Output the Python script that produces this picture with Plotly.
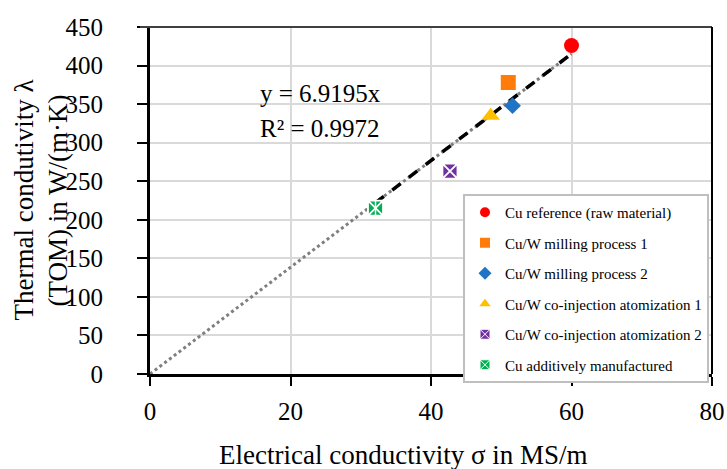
import plotly.graph_objects as go

# ---- data ----
names = [
    "Cu reference (raw material)",
    "Cu/W milling process 1",
    "Cu/W milling process 2",
    "Cu/W co-injection atomization 1",
    "Cu/W co-injection atomization 2",
    "Cu additively manufactured",
]
sigma = [60.0, 51.0, 51.6, 48.5, 42.7, 32.1]
lam = [426, 378, 348, 335, 263, 215]
slope = 6.9195
r2 = 0.9972
x_ticks = [0, 20, 40, 60, 80]
y_ticks = [0, 50, 100, 150, 200, 250, 300, 350, 400, 450]
x_title = "Electrical conductivity σ in MS/m"
y_title_lines = ["Thermal condutivity λ", "(TOM) in W/(m·K)"]

# ---- styles ----
colors = ["#FF0000", "#FF7C0A", "#1F74C6", "#FFC000", "#7030A0", "#00B050"]
symbols = ["circle", "square", "diamond", "triangle-up", "square-x", "square-x"]
sizes = [15, 15, 13, 16, 15, 15]
FONT = "Liberation Serif"
L, R, T, B = 150, 15, 27, 95
W, H = 727, 469
PW = W - L - R
PH = H - T - B

fig = go.Figure()

xmax = max(sigma)
xmin = min(sigma)
fig.add_trace(go.Scatter(
    x=[0, xmax], y=[0, slope * xmax], mode="lines",
    line=dict(color="#7F7F7F", width=3, dash="dot"),
    showlegend=False, hoverinfo="skip"))
fig.add_trace(go.Scatter(
    x=[xmin, xmax], y=[slope * xmin, slope * xmax], mode="lines",
    line=dict(color="#000000", width=3.5, dash="dash"),
    showlegend=False, hoverinfo="skip"))

for i, n in enumerate(names):
    line = dict(width=0)
    if symbols[i] == "square-x":
        line = dict(color="white", width=1.8)
    fig.add_trace(go.Scatter(
        x=[sigma[i]], y=[lam[i]], mode="markers",
        marker=dict(color=colors[i], symbol=symbols[i], size=sizes[i], line=line),
        showlegend=False, hoverinfo="skip"))
fig.add_trace(go.Scatter(
    x=[sigma[5]], y=[lam[5]], mode="markers",
    marker=dict(symbol="line-ns", size=13, line=dict(color="white", width=1.5)),
    showlegend=False, hoverinfo="skip"))

for i, n in enumerate(names):
    line = dict(width=0)
    if symbols[i] == "square-x":
        line = dict(color="white", width=1)
    fig.add_trace(go.Scatter(
        x=[None], y=[None], mode="markers", name=n, legendgroup=f"g{i}",
        marker=dict(color=colors[i], symbol=symbols[i], size=10, line=line)))

fig.add_annotation(x=15.4, y=364, xref="x", yref="y", text=f"y = {slope}x",
                   showarrow=False, xanchor="left", yanchor="middle",
                   font=dict(family=FONT, size=25, color="black"))
fig.add_annotation(x=15.4, y=319, xref="x", yref="y", text=f"R² = {r2}",
                   showarrow=False, xanchor="left", yanchor="middle",
                   font=dict(family=FONT, size=25, color="black"))

# y title as two rotated lines
for xc, txt in zip([23, 57], y_title_lines):
    fig.add_annotation(x=(xc - L) / PW, y=0.5, xref="paper", yref="paper",
                       xanchor="center", yanchor="middle", text=txt, textangle=-90,
                       showarrow=False, font=dict(family=FONT, size=27, color="black"))
# x title
fig.add_annotation(x=(403 - L) / PW, y=-(455 - (T + PH)) / PH, xref="paper",
                   yref="paper", xanchor="center", yanchor="middle", text=x_title,
                   showarrow=False, font=dict(family=FONT, size=27, color="black"))

# borders top and right
fig.add_shape(type="line", xref="paper", yref="paper", x0=-10 / PW, x1=1, y0=1, y1=1,
              line=dict(color="#404040", width=2))
fig.add_shape(type="line", xref="paper", yref="paper", x0=1, x1=1, y0=0, y1=1,
              line=dict(color="#000000", width=2))

fig.update_layout(
    width=W, height=H,
    margin=dict(l=L, r=R, t=T, b=B, autoexpand=False),
    paper_bgcolor="white", plot_bgcolor="white",
    font=dict(family=FONT, color="black"),
    legend=dict(x=(463 - L) / PW, y=(T + PH - 194) / PH, xanchor="left", yanchor="top",
                bgcolor="white", bordercolor="#BFBFBF", borderwidth=2,
                font=dict(family=FONT, size=15, color="black"),
                tracegroupgap=8, itemsizing="trace"),
    xaxis=dict(range=[0, 80], tickvals=x_ticks, showgrid=True, gridcolor="#D9D9D9",
               gridwidth=2, zeroline=False, showline=True, linecolor="black", linewidth=3,
               ticks="outside", ticklen=9, tickwidth=2, tickcolor="black",
               ticklabelstandoff=4, automargin=False,
               tickfont=dict(family=FONT, size=25, color="black")),
    yaxis=dict(range=[0, 450], tickvals=y_ticks, showgrid=True, gridcolor="#D9D9D9",
               gridwidth=2, zeroline=False, showline=True, linecolor="black", linewidth=3,
               ticks="outside", ticklen=10, tickwidth=2, tickcolor="black",
               ticklabelstandoff=29, automargin=False,
               tickfont=dict(family=FONT, size=25, color="black")),
)

fig.write_html("out.html", config={"displayModeBar": False})
